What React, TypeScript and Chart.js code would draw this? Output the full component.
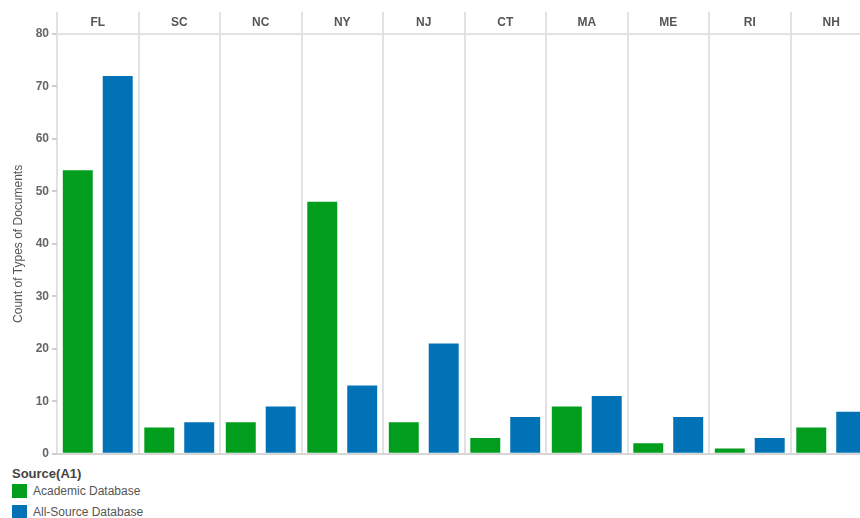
import React, { useEffect, useRef } from "react";
import { Chart, registerables } from "chart.js";

Chart.register(...registerables);

const states = ["FL", "SC", "NC", "NY", "NJ", "CT", "MA", "ME", "RI", "NH"];
const academic = [54, 5, 6, 48, 6, 3, 9, 2, 1, 5];
const allSource = [72, 6, 9, 13, 21, 7, 11, 7, 3, 8];
const seriesNames = ["Academic Database", "All-Source Database"];
const seriesColors = ["#009e1c", "#0072b5"];
const legendTitle = "Source(A1)";
const yTitle = "Count of Types of Documents";

const FONT = "'Liberation Sans', Arial, sans-serif";
const SEP_COLOR = "#e2e2e2";

const headerSeparators = {
  id: "headerSeparators",
  beforeDatasetsDraw(chart: any) {
    const xs = chart.scales.x;
    const n = xs.ticks.length;
    if (!n) return;
    const w = (xs.right - xs.left) / n;
    const ctx = chart.ctx;
    ctx.save();
    ctx.strokeStyle = SEP_COLOR;
    ctx.lineWidth = 2;
    for (let i = 0; i <= n; i++) {
      const x = Math.round(xs.getPixelForValue(i) - w / 2);
      ctx.beginPath();
      ctx.moveTo(x, 12);
      ctx.lineTo(x, chart.chartArea.top);
      ctx.stroke();
    }
    ctx.restore();
  },
};

export default function App() {
  const ref = useRef<HTMLCanvasElement | null>(null);

  useEffect(() => {
    if (!ref.current) return;
    const chart = new Chart(ref.current, {
      type: "bar",
      data: {
        labels: states,
        datasets: [
          {
            label: seriesNames[0],
            data: academic,
            backgroundColor: seriesColors[0],
            barPercentage: 0.75,
            categoryPercentage: 0.98,
          },
          {
            label: seriesNames[1],
            data: allSource,
            backgroundColor: seriesColors[1],
            barPercentage: 0.75,
            categoryPercentage: 0.98,
          },
        ],
      },
      options: {
        responsive: false,
        animation: false,
        devicePixelRatio: 1,
        layout: { padding: { top: 11.5, bottom: 5, left: 0, right: 0 } },
        plugins: {
          legend: { display: false },
          tooltip: { enabled: false },
        },
        scales: {
          x: {
            position: "top",
            grid: {
              offset: true,
              color: SEP_COLOR,
              lineWidth: 2,
              drawOnChartArea: true,
              drawTicks: false,
            },
            border: { display: true, color: SEP_COLOR, width: 2 },
            ticks: {
              padding: 4,
              color: "#555555",
              autoSkip: false,
              maxRotation: 0,
              font: { family: FONT, size: 12, weight: "bold" },
            },
          },
          y: {
            min: 0,
            max: 80,
            afterFit: (scale: any) => {
              scale.width = 57;
            },
            grid: {
              drawOnChartArea: true,
              color: (ctx: any) =>
                ctx.tick && ctx.tick.value === 0 ? "#d6d6d6" : "rgba(0,0,0,0)",
              lineWidth: 2,
              tickColor: "#cfcfcf",
              tickLength: 5,
              drawTicks: true,
            },
            border: { display: false },
            ticks: {
              stepSize: 10,
              padding: 3,
              color: "#666666",
              font: { family: FONT, size: 12, weight: "bold" },
            },
            title: {
              display: true,
              text: yTitle,
              color: "#555555",
              padding: { top: 11, bottom: 0 },
              font: { family: FONT, size: 12 },
            },
          },
        },
      },
      plugins: [headerSeparators],
    });
    return () => chart.destroy();
  }, []);

  return (
    <div
      style={{
        position: "fixed",
        left: 0,
        top: 0,
        width: 860,
        height: 518,
        overflow: "hidden",
        background: "#ffffff",
        fontFamily: FONT,
      }}
    >
      <canvas
        ref={ref}
        width={872}
        height={464}
        style={{ position: "absolute", left: 0, top: 0, width: 872, height: 464 }}
      />
      <div
        style={{
          position: "absolute",
          left: 12,
          top: 466,
          fontSize: 13,
          lineHeight: "16px",
          fontWeight: "bold",
          color: "#444444",
          whiteSpace: "nowrap",
        }}
      >
        {legendTitle}
      </div>
      {seriesNames.map((name, i) => (
        <div
          key={name}
          style={{
            position: "absolute",
            left: 12,
            top: 484 + i * 21,
            height: 14,
            display: "flex",
            alignItems: "center",
            whiteSpace: "nowrap",
          }}
        >
          <div
            style={{
              width: 15,
              height: 14,
              background: seriesColors[i],
              marginRight: 6,
            }}
          />
          <span style={{ fontSize: 12, color: "#555555", lineHeight: "14px" }}>
            {name}
          </span>
        </div>
      ))}
    </div>
  );
}
